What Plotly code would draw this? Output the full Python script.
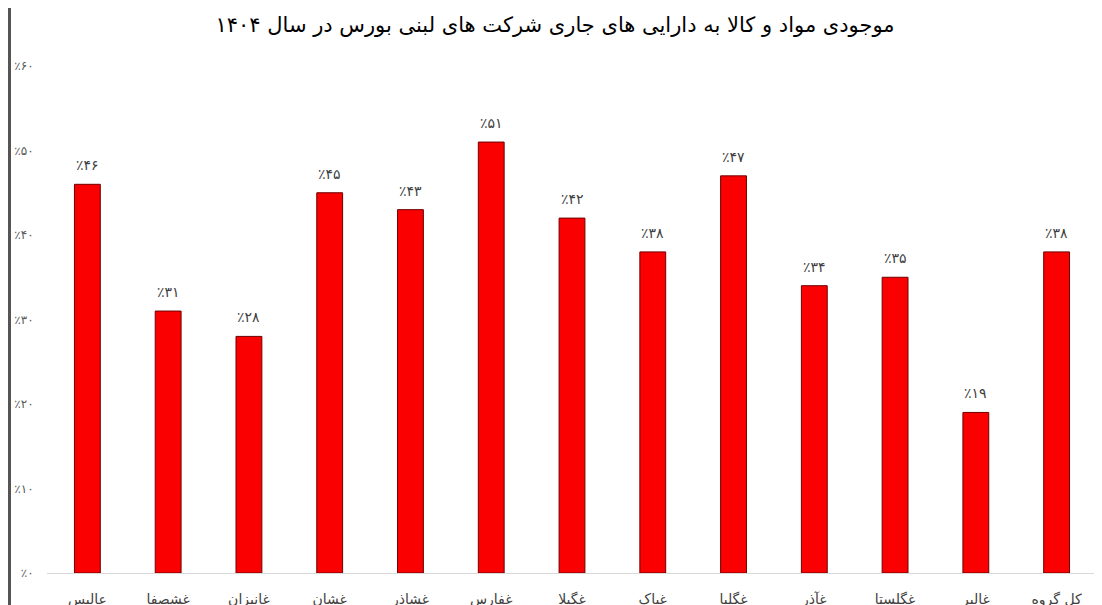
import plotly.graph_objects as go

title = "موجودی مواد و کالا به دارایی های جاری شرکت های لبنی بورس در سال ۱۴۰۴"
categories = ["عالیس", "غشصفا", "غانیزان", "غشان", "غشاذر", "غفارس", "غگیلا",
              "غپاک", "غگلپا", "غآذر", "غگلستا", "غالبر", "کل گروه"]
values = [46, 31, 28, 45, 43, 51, 42, 38, 47, 34, 35, 19, 38]
tick_vals = [0, 10, 20, 30, 40, 50, 60]

fa_digits = str.maketrans("0123456789", "۰۱۲۳۴۵۶۷۸۹")
def fa_pct(v):
    return "٪" + str(v).translate(fa_digits)

bar_text = [fa_pct(v) for v in values]
tick_text = [fa_pct(v) for v in tick_vals]

FONT = "DejaVu Sans"

fig = go.Figure()
fig.add_trace(go.Bar(
    x=categories, y=values,
    marker=dict(color="#fa0000", line=dict(color="#6e0000", width=1)),
    hoverinfo="skip",
))

for c, v, t in zip(categories, values, bar_text):
    fig.add_annotation(x=c, y=v, text=t, showarrow=False, yanchor="middle",
                       yshift=19, font=dict(family=FONT, size=14, color="#404040"))

# page body has an 8px margin, so the figure is sized to fill the rest of the window
fig.update_layout(
    width=1094, height=597,
    paper_bgcolor="white", plot_bgcolor="white",
    margin=dict(l=39, r=5, t=58, b=32, autoexpand=False),
    bargap=0.68,
    showlegend=False,
    title=dict(text=title, x=0.5, xanchor="center", y=1 - 17 / 597, yanchor="middle",
               font=dict(family=FONT, size=21, color="black")),
    xaxis=dict(showline=True, linecolor="#d9d9d9", linewidth=1, automargin=False,
               ticks="outside", ticklen=13, tickcolor="rgba(0,0,0,0)",
               tickfont=dict(family=FONT, size=14, color="#404040"),
               showgrid=False, fixedrange=True),
    yaxis=dict(range=[0, 60], tickvals=tick_vals, ticktext=tick_text, automargin=False,
               showgrid=False, zeroline=False, showline=False,
               tickfont=dict(family=FONT, size=12, color="#595959"),
               ticks="outside", ticklen=10, tickcolor="rgba(0,0,0,0)"),
    shapes=[dict(type="rect", xref="paper", yref="paper",
                 x0=-39 / 1050, x1=-36 / 1050, y0=-32 / 507, y1=1 + 58 / 507,
                 fillcolor="#555555", line=dict(width=0))],
)

fig.write_html("out.html")
